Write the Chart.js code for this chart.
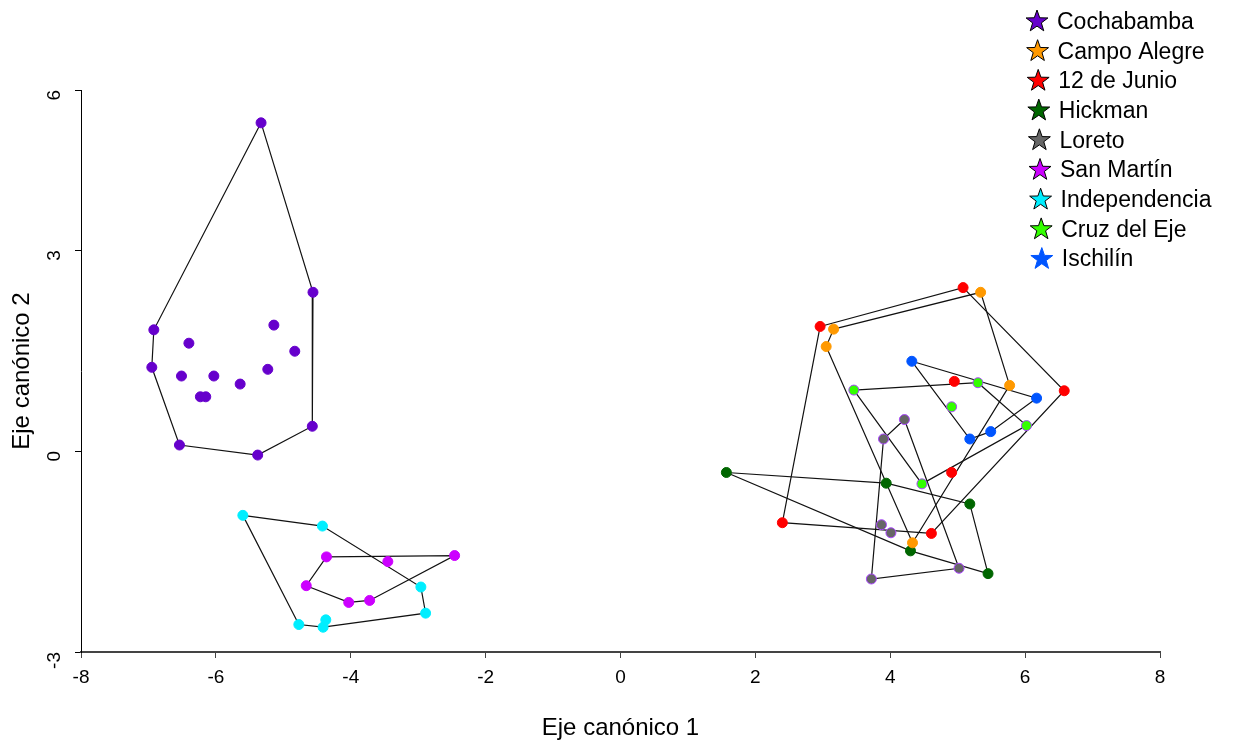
<!DOCTYPE html>
<html>
<head>
<meta charset="utf-8">
<script src="https://cdn.jsdelivr.net/npm/chart.js@4.4.0/dist/chart.umd.min.js"></script>
<style>
  html, body { margin: 0; padding: 0; background: #fff; }
</style>
</head>
<body>
<canvas id="chart" width="1237" height="744"></canvas>
<script>
// grupos (poblaciones) y colores
const groupNames = ['Cochabamba', 'Campo Alegre', '12 de Junio', 'Hickman', 'Loreto',
                    'San Martín', 'Independencia', 'Cruz del Eje', 'Ischilín'];
const groupColors = ['#6600cc', '#ff9900', '#ff0000', '#006600', '#666666',
                     '#cc00ff', '#00eeff', '#33ff00', '#0055ff'];
const pointBorders = ['#6600cc', '#ff9900', '#ff0000', '#006600', '#aa44ff',
                      '#cc00ff', '#00eeff', '#aa44ff', '#0055ff'];

// puntajes canónicos
const cochabambaX = [-5.33, -4.56, -6.92, -5.14, -6.40, -4.83, -6.95, -6.51, -6.03, -5.23, -5.64, -6.23, -6.15, -4.57, -6.54, -5.38];
const cochabambaY = [ 4.90,  2.37,  1.81,  1.88,  1.61,  1.49,  1.25,  1.12,  1.12,  1.22,  1.00,  0.81,  0.81,  0.37,  0.09, -0.06];
const campoAlegreX = [3.16, 3.05, 5.34, 5.77, 4.33];
const campoAlegreY = [1.82, 1.56, 2.37, 0.98, -1.37];
const junioX = [2.96, 5.08, 4.95, 6.58, 4.91, 2.40, 4.61];
const junioY = [1.86, 2.44, 1.04, 0.90, -0.32, -1.07, -1.23];
const hickmanX = [1.57, 3.94, 5.18, 4.30, 5.45];
const hickmanY = [-0.32, -0.48, -0.79, -1.49, -1.83];
const loretoX = [4.21, 3.90, 3.87, 4.01, 3.72, 5.02];
const loretoY = [0.47, 0.18, -1.10, -1.22, -1.91, -1.75];
const sanMartinX = [-4.36, -2.46, -3.45, -4.66, -4.03, -3.72];
const sanMartinY = [-1.58, -1.56, -1.65, -2.01, -2.26, -2.23];
const independenciaX = [-5.60, -4.42, -2.96, -2.89, -4.77, -4.37, -4.41];
const independenciaY = [-0.96, -1.12, -2.03, -2.42, -2.59, -2.52, -2.63];
const cruzX = [3.46, 5.30, 4.91, 6.02, 4.47];
const cruzY = [0.91, 1.02, 0.66, 0.38, -0.49];
const ischilinX = [4.32, 6.17, 5.49, 5.18];
const ischilinY = [1.34, 0.79, 0.29, 0.18];

// orden de los vértices del polígono convexo de cada grupo
const cochabambaHull = [0, 1, 13, 15, 14, 6, 2];
const campoAlegreHull = [0, 2, 3, 4, 1];
const junioHull = [0, 1, 3, 6, 5];
const hickmanHull = [0, 1, 2, 4, 3];
const loretoHull = [0, 5, 4, 1];
const sanMartinHull = [0, 1, 5, 4, 3];
const independenciaHull = [0, 1, 2, 3, 6, 4];
const cruzHull = [0, 1, 3, 4];
const ischilinHull = [0, 1, 2, 3];

// ejes
const xMin = -8, xMax = 8, xStep = 2;
const yMin = -3, yTop = 5.39;
const yTickValues = [-3, 0, 3, 5.39];
const yTickLabels = ['-3', '0', '3', '6'];

const groupsX = [cochabambaX, campoAlegreX, junioX, hickmanX, loretoX, sanMartinX, independenciaX, cruzX, ischilinX];
const groupsY = [cochabambaY, campoAlegreY, junioY, hickmanY, loretoY, sanMartinY, independenciaY, cruzY, ischilinY];
const hulls = [cochabambaHull, campoAlegreHull, junioHull, hickmanHull, loretoHull, sanMartinHull, independenciaHull, cruzHull, ischilinHull];

const FONT = "'Liberation Sans', Arial, sans-serif";
const NARROW = "'Liberation Sans Narrow', 'Arial Narrow', 'Liberation Sans', sans-serif";

const datasets = [];
groupNames.forEach((name, g) => {
    const xs = groupsX[g], ys = groupsY[g];
    // polígono (debajo de los puntos)
    const ring = hulls[g].concat([hulls[g][0]]).map(i => ({ x: xs[i], y: ys[i] }));
    datasets.push({
        label: name + ' (hull)',
        data: ring,
        showLine: true,
        borderColor: '#111',
        borderWidth: 1.2,
        pointRadius: 0,
        fill: false,
        tension: 0,
        order: 2
    });
    datasets.push({
        label: name,
        data: xs.map((x, i) => ({ x, y: ys[i] })),
        backgroundColor: groupColors[g],
        borderColor: pointBorders[g],
        borderWidth: 1,
        pointRadius: 5,
        order: 1
    });
});

// leyenda con estrellas
function drawStar(ctx, cx, cy, rOut, rIn, fill, stroke) {
    ctx.beginPath();
    for (let k = 0; k < 10; k++) {
        const r = k % 2 === 0 ? rOut : rIn;
        const a = -Math.PI / 2 + k * Math.PI / 5;
        const px = cx + r * Math.cos(a), py = cy + r * Math.sin(a);
        if (k === 0) ctx.moveTo(px, py); else ctx.lineTo(px, py);
    }
    ctx.closePath();
    ctx.fillStyle = fill;
    ctx.fill();
    ctx.lineWidth = 1;
    ctx.strokeStyle = stroke;
    ctx.stroke();
}

const starLegend = {
    id: 'starLegend',
    afterDraw(chart) {
        const ctx = chart.ctx;
        ctx.save();
        ctx.font = '23px ' + FONT;
        ctx.textBaseline = 'middle';
        ctx.textAlign = 'left';
        groupNames.forEach((name, g) => {
            const y = 21.5 + g * 29.7;
            const sx = 1037 + g * 0.6;
            drawStar(ctx, sx, y, 11.5, 4.6, groupColors[g], g === 8 ? groupColors[g] : '#000');
            ctx.fillStyle = '#000';
            ctx.fillText(name, sx + 20, y + 1);
        });
        ctx.restore();
    }
};

new Chart(document.getElementById('chart'), {
    type: 'scatter',
    data: { datasets },
    options: {
        responsive: false,
        animation: false,
        layout: { padding: { top: 90, right: 77, left: 0, bottom: 0 } },
        plugins: {
            legend: { display: false },
            tooltip: { enabled: false }
        },
        scales: {
            x: {
                type: 'linear',
                min: xMin,
                max: xMax,
                ticks: { stepSize: xStep, color: '#000', font: { family: NARROW, size: 19 }, padding: 8 },
                grid: { drawOnChartArea: false, tickLength: 6, tickColor: '#444' },
                border: { color: '#444', width: 2 },
                title: { display: true, text: 'Eje canónico 1', color: '#000',
                         font: { family: FONT, size: 24 }, padding: { top: 0, bottom: 1 } },
                afterFit: s => { s.height = 92; }
            },
            y: {
                type: 'linear',
                min: yMin,
                max: yTop,
                afterBuildTicks: s => { s.ticks = yTickValues.map(v => ({ value: v })); },
                ticks: {
                    callback: (v, i) => yTickLabels[i],
                    minRotation: 90, maxRotation: 90,
                    color: '#000', font: { family: NARROW, size: 19 }, padding: 20
                },
                grid: { drawOnChartArea: false, tickLength: 6, tickColor: '#000' },
                border: { color: '#000', width: 1 },
                title: { display: true, text: 'Eje canónico 2', color: '#000',
                         font: { family: FONT, size: 24 }, padding: { top: 8, bottom: 0 } },
                afterFit: s => { s.width = 81; }
            }
        }
    },
    plugins: [starLegend]
});
</script>
</body>
</html>
